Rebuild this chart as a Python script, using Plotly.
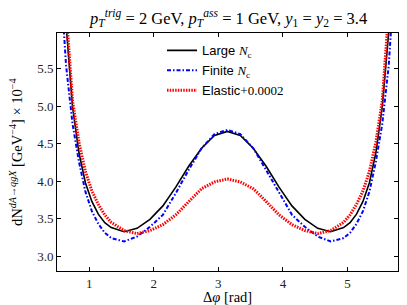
import plotly.graph_objects as go

phi = [0.54, 0.64, 0.74, 0.84, 0.94, 1.04, 1.14, 1.24, 1.34, 1.54, 1.74, 1.94, 2.14, 2.34, 2.54, 2.74, 2.94, 3.14,
       3.34, 3.54, 3.74, 3.94, 4.14, 4.34, 4.54, 4.74, 4.94, 5.04, 5.14, 5.24, 5.34, 5.44, 5.54, 5.64, 5.74]

large_nc = [7.0, 6.10, 5.00, 4.38, 3.98, 3.73, 3.56, 3.445, 3.38, 3.325, 3.37, 3.49, 3.67, 3.92, 4.20, 4.44, 4.61, 4.665,
            4.61, 4.44, 4.20, 3.92, 3.67, 3.49, 3.37, 3.325, 3.38, 3.445, 3.56, 3.73, 3.98, 4.38, 5.00, 6.10, 7.0]

finite_nc = [6.9, 5.55, 4.77, 4.26, 3.86, 3.60, 3.43, 3.31, 3.24, 3.195, 3.26, 3.39, 3.55, 3.84, 4.15, 4.44, 4.63, 4.685,
             4.63, 4.44, 4.15, 3.84, 3.55, 3.39, 3.26, 3.195, 3.24, 3.31, 3.43, 3.60, 3.86, 4.26, 4.77, 5.55, 6.9]

elastic = [7.5, 6.30, 5.08, 4.52, 4.13, 3.87, 3.69, 3.55, 3.45, 3.34, 3.30, 3.34, 3.42, 3.55, 3.73, 3.90, 3.99, 4.03,
           3.99, 3.90, 3.73, 3.55, 3.42, 3.34, 3.30, 3.34, 3.45, 3.55, 3.69, 3.87, 4.13, 4.52, 5.08, 6.30, 7.5]

x_ticks = [1, 2, 3, 4, 5]
y_ticks = [3.0, 3.5, 4.0, 4.5, 5.0, 5.5]
y_tick_labels = ["3.0", "3.5", "4.0", "4.5", "5.0", "5.5"]

SERIF = "Liberation Serif"
SANS = "Liberation Sans"

def lbl(word):
    return f"<span style='font-family:{SANS}'>{word}</span>"

fig = go.Figure()
fig.add_trace(go.Scatter(x=phi, y=large_nc, mode="lines",
                         name=lbl("Large ") + "<i>N</i><sub>c</sub>",
                         line=dict(color="black", width=1.6)))
fig.add_trace(go.Scatter(x=phi, y=finite_nc, mode="lines",
                         name=lbl("Finite ") + "<i>N</i><sub>c</sub>",
                         line=dict(color="#0000ff", width=2, dash="4px,2px,1.5px,2px")))
fig.add_trace(go.Scatter(x=phi, y=elastic, mode="lines",
                         name=lbl("Elastic") + "+0.0002",
                         line=dict(color="#ff0000", width=3, dash="1.5px,1.2px")))

axis_common = dict(showline=True, mirror="allticks", linecolor="black", linewidth=1,
                   ticks="inside", ticklen=4, tickcolor="black", showgrid=False, zeroline=False,
                   automargin=False,
                   tickfont=dict(family=SERIF, size=13, color="#222"))

fig.update_layout(
    width=399, height=297,
    margin=dict(l=49, r=9, t=25, b=34),
    paper_bgcolor="white", plot_bgcolor="white",
    font=dict(family=SERIF, size=13, color="black"),
    xaxis=dict(range=[0.5, 5.783], tickvals=x_ticks, **axis_common),
    yaxis=dict(range=[2.8, 5.98], tickvals=y_ticks, ticktext=y_tick_labels, **axis_common),
    legend=dict(x=0.308, y=0.99, xanchor="left", yanchor="top", bgcolor="rgba(0,0,0,0)",
                font=dict(family=SERIF, size=13), tracegroupgap=0, itemwidth=30),
    showlegend=True,
    annotations=[
        dict(text="<i>p</i><sub><i>T</i></sub><sup><i>trig</i></sup> = 2 GeV, "
                  "<i>p</i><sub><i>T</i></sub><sup><i>ass</i></sup> = 1 GeV, "
                  "<i>y</i><sub>1</sub> = <i>y</i><sub>2</sub> = 3.4",
             xref="paper", yref="paper", x=0.5, y=1, yshift=15, xanchor="center", yanchor="middle",
             showarrow=False, font=dict(family=SERIF, size=16.5)),
        dict(text="Δ<i>φ</i> [rad]", xref="paper", yref="paper", x=0.5, y=0, yshift=-26,
             xanchor="center", yanchor="middle", showarrow=False,
             font=dict(family=SERIF, size=14.5)),
        dict(text="dN<sup><i>dA→qgX</i></sup> [GeV<sup>−4</sup>] × 10<sup>−4</sup>",
             xref="paper", yref="paper", x=0, y=0.5, xshift=-41, textangle=-90,
             xanchor="center", yanchor="middle", showarrow=False,
             font=dict(family=SERIF, size=14.5)),
    ],
)

fig.write_html("out.html")
